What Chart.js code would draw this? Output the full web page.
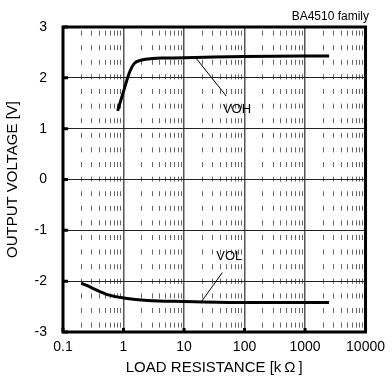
<!DOCTYPE html>
<html>
<head>
<meta charset="utf-8">
<script src="https://cdn.jsdelivr.net/npm/chart.js@4"></script>
<style>
  html, body { margin: 0; padding: 0; background: #fff; }
</style>
</head>
<body>
<canvas id="grafico" width="392" height="385"></canvas>
<script>
// ===== DADOS =====
const vohX = [0.8, 1, 1.24, 1.5, 2, 3, 5, 15, 100, 2500];
const vohY = [1.35, 1.73, 2.09, 2.28, 2.35, 2.38, 2.39, 2.40, 2.42, 2.43];

const volX = [0.2, 0.3, 0.4, 0.6, 1, 2.5, 10, 100, 2500];
const volY = [-2.04, -2.13, -2.2, -2.28, -2.33, -2.38, -2.40, -2.42, -2.42];

// linhas de chamada (rótulo -> curva)
const vohLeaderX = [15.5, 50];
const vohLeaderY = [2.40, 1.64];
const volLeaderX = [19.5, 43];
const volLeaderY = [-2.40, -1.83];

const xDecades = [0.1, 1, 10, 100, 1000, 10000];
const xTickLabels = ['0.1', '1', '10', '100', '1000', '10000'];
const yTicks = [-3, -2, -1, 0, 1, 2, 3];

const FONTE = "'Liberation Sans', Arial, sans-serif";

function pontos(xs, ys) {
  return xs.map((x, i) => ({ x, y: ys[i] }));
}

// grade: décadas + subdivisões 2..9
const xGrid = [];
xDecades.forEach((d, i) => {
  xGrid.push(d);
  if (i < xDecades.length - 1) {
    for (let m = 2; m <= 9; m++) xGrid.push(Number((d * m).toPrecision(6)));
  }
});

function ehDecada(v) {
  return xDecades.some(d => Math.abs(d - v) < d * 1e-6);
}

// ===== PLUGIN: moldura, marcas e rótulos =====
const moldura = {
  id: 'moldura',
  afterDatasetsDraw(chart) {
    const { ctx, chartArea: a, scales } = chart;
    ctx.save();
    ctx.strokeStyle = '#000';
    ctx.lineWidth = 3;
    ctx.strokeRect(a.left, a.top, a.right - a.left, a.bottom - a.top);

    // marquinhas internas no eixo esquerdo e inferior
    ctx.beginPath();
    yTicks.forEach(v => {
      const py = scales.y.getPixelForValue(v);
      ctx.moveTo(a.left, py);
      ctx.lineTo(a.left + 5, py);
    });
    xDecades.forEach(v => {
      const px = scales.x.getPixelForValue(v);
      ctx.moveTo(px, a.bottom);
      ctx.lineTo(px, a.bottom - 4);
    });
    ctx.stroke();

    ctx.fillStyle = '#000';
    ctx.font = '13px ' + FONTE;
    ctx.textAlign = 'center';
    ctx.textBaseline = 'middle';
    ctx.fillText('VOH', scales.x.getPixelForValue(75), scales.y.getPixelForValue(1.37));
    ctx.fillText('VOL', scales.x.getPixelForValue(56), scales.y.getPixelForValue(-1.51));
    ctx.restore();
  }
};

const curva = {
  borderColor: '#000',
  borderWidth: 3,
  pointRadius: 0,
  fill: false,
  cubicInterpolationMode: 'monotone'
};
const chamada = {
  borderColor: '#000',
  borderWidth: 1,
  pointRadius: 0,
  fill: false,
  tension: 0
};

new Chart(document.getElementById('grafico'), {
  type: 'line',
  data: {
    datasets: [
      { ...curva, label: 'VOH', data: pontos(vohX, vohY) },
      { ...curva, label: 'VOL', data: pontos(volX, volY) },
      { ...chamada, label: 'VOH leader', data: pontos(vohLeaderX, vohLeaderY) },
      { ...chamada, label: 'VOL leader', data: pontos(volLeaderX, volLeaderY) }
    ]
  },
  options: {
    responsive: false,
    devicePixelRatio: 1,
    animation: false,
    layout: { padding: { top: 0, right: 23, left: 0, bottom: 0 } },
    plugins: {
      legend: { display: false },
      tooltip: { enabled: false },
      title: {
        display: true,
        text: 'BA4510 family',
        align: 'end',
        color: '#000',
        font: { family: FONTE, size: 12, weight: 'normal' },
        padding: { top: 9, bottom: 3.6 }
      }
    },
    scales: {
      x: {
        type: 'logarithmic',
        min: 0.1,
        max: 10000,
        afterBuildTicks: s => { s.ticks = xGrid.map(v => ({ value: v })); },
        afterFit: s => { s.height = 53; },
        ticks: {
          autoSkip: false,
          maxRotation: 0,
          padding: 7,
          color: '#000',
          font: { family: FONTE, size: 14 },
          callback: v => {
            const i = xDecades.findIndex(d => Math.abs(d - v) < d * 1e-6);
            return i >= 0 ? xTickLabels[i] : '';
          }
        },
        grid: {
          drawTicks: false,
          color: c => (c.tick && ehDecada(c.tick.value)) ? '#555' : '#666',
          lineWidth: c => (c.tick && ehDecada(c.tick.value)) ? 1.5 : 1
        },
        border: {
          display: false,
          dash: c => (c.tick && ehDecada(c.tick.value)) ? [] : [5, 9.6],
          dashOffset: 11
        },
        title: {
          display: true,
          text: 'LOAD RESISTANCE [k\u2009Ω\u2009]',
          color: '#000',
          font: { family: FONTE, size: 15 },
          padding: { top: 0, bottom: 8 }
        }
      },
      y: {
        min: -3,
        max: 3,
        afterBuildTicks: s => { s.ticks = yTicks.map(v => ({ value: v })); },
        afterFit: s => { s.width = 63; },
        ticks: {
          padding: 16,
          color: '#000',
          font: { family: FONTE, size: 14 }
        },
        grid: { drawTicks: false, color: '#222', lineWidth: 1 },
        border: { display: false },
        title: {
          display: true,
          text: 'OUTPUT VOLTAGE [V]',
          color: '#000',
          font: { family: FONTE, size: 15 },
          padding: { top: 4, bottom: 0 }
        }
      }
    }
  },
  plugins: [moldura]
});
</script>
</body>
</html>
